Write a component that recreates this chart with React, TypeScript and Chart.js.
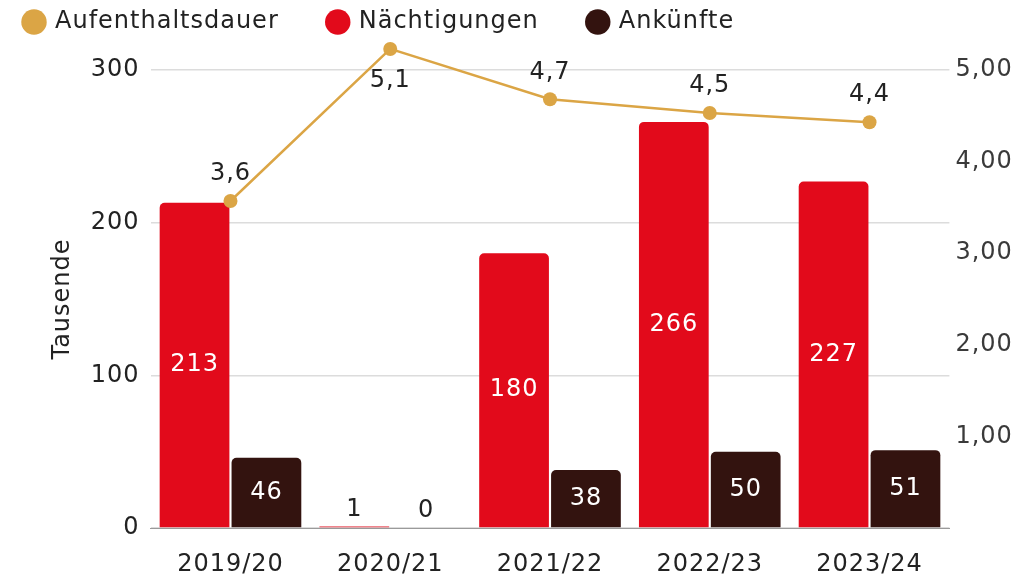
import React, { useEffect, useRef } from "react";
import { Chart, registerables } from "chart.js";

Chart.register(...registerables);

const FONT = "'DejaVu Sans', sans-serif";

const categories = ["2019/20", "2020/21", "2021/22", "2022/23", "2023/24"];
const naechtigungen = [213, 1, 180, 266, 227];
const ankuenfte = [46, 0, 38, 50, 51];
const aufenthaltsdauer = [3.57, 5.23, 4.68, 4.53, 4.43];
const aufenthaltsdauerLabels = ["3,6", "5,1", "4,7", "4,5", "4,4"];
const leftMax = 300;
const leftStep = 100;
const rightMax = 5;
const rightStep = 1;

const RED = "#E20A1B";
const DARK = "#33130F";
const GOLD = "#DBA545";
const TEXT = "#222222";

const spacingPlugin = {
  id: "spacingPlugin",
  beforeLayout(chart: any) {
    chart.ctx.letterSpacing = "1px";
    const lg = chart.legend;
    if (lg && !lg._patched) {
      const orig = lg.fit;
      lg.fit = function () {
        orig.call(this);
        this.height = 110;
      };
      lg._patched = true;
    }
  },
  beforeDraw(chart: any) {
    chart.ctx.letterSpacing = "1px";
  },
  // let the line's points be drawn a little above the plot area (as in the source)
  beforeDatasetDraw(chart: any, args: any) {
    if (args.meta.type === "line") {
      chart._savedTop = chart.chartArea.top;
      chart.chartArea.top = chart.chartArea.top - 60;
    }
  },
  afterDatasetDraw(chart: any, args: any) {
    if (args.meta.type === "line" && chart._savedTop !== undefined) {
      chart.chartArea.top = chart._savedTop;
      chart._savedTop = undefined;
    }
  },
};

const valueLabels = {
  id: "valueLabels",
  afterDatasetsDraw(chart: any) {
    const ctx = chart.ctx;
    ctx.save();
    ctx.letterSpacing = "1px";
    ctx.font = `24px ${FONT}`;
    ctx.textAlign = "center";
    ctx.textBaseline = "middle";
    chart.data.datasets.forEach((ds: any, di: number) => {
      const meta = chart.getDatasetMeta(di);
      if (meta.hidden) return;
      meta.data.forEach((el: any, i: number) => {
        if (meta.type === "bar") {
          const { x, y, base } = el.getProps(["x", "y", "base"], true);
          const h = base - y;
          const text = String(ds.data[i]);
          if (h > 40) {
            ctx.fillStyle = "#ffffff";
            ctx.fillText(text, x, (y + base) / 2);
          } else {
            ctx.fillStyle = TEXT;
            ctx.fillText(text, x, y - 17);
          }
        } else {
          const { x, y } = el.getProps(["x", "y"], true);
          const text = aufenthaltsdauerLabels[i];
          ctx.fillStyle = TEXT;
          const above = y - 27;
          const ly = above < chart.chartArea.top - 25 ? y + 32 : above;
          ctx.fillText(text, x, ly);
        }
      });
    });
    ctx.restore();
  },
};

export default function App() {
  const ref = useRef<HTMLCanvasElement>(null);

  useEffect(() => {
    document.body.style.margin = "0";
    const barRadius = (c: any) => (Math.abs(Number(c.raw)) < 5 ? 0 : 5);
    const chart = new Chart(ref.current as HTMLCanvasElement, {
      type: "bar",
      data: {
        labels: categories,
        datasets: [
          {
            type: "line",
            label: "Aufenthaltsdauer",
            data: aufenthaltsdauer,
            yAxisID: "y1",
            borderColor: GOLD,
            backgroundColor: GOLD,
            borderWidth: 2.5,
            pointRadius: 7,
            pointHoverRadius: 7,
            pointBackgroundColor: GOLD,
            pointBorderWidth: 0,
            tension: 0,
            clip: false,
            order: 0,
          } as any,
          {
            type: "bar",
            label: "Nächtigungen",
            data: naechtigungen,
            yAxisID: "y",
            backgroundColor: RED,
            borderWidth: 0,
            borderRadius: barRadius,
            categoryPercentage: 0.9,
            barPercentage: 0.97,
            order: 1,
          },
          {
            type: "bar",
            label: "Ankünfte",
            data: ankuenfte,
            yAxisID: "y",
            backgroundColor: DARK,
            borderWidth: 0,
            borderRadius: barRadius,
            categoryPercentage: 0.9,
            barPercentage: 0.97,
            order: 1,
          },
        ],
      },
      options: {
        responsive: false,
        animation: false,
        devicePixelRatio: 1,
        layout: { padding: { top: -40, left: -25, right: 0, bottom: 0 } },
        font: { family: FONT, size: 24 },
        plugins: {
          tooltip: { enabled: false },
          legend: {
            position: "top",
            align: "start",
            labels: {
              usePointStyle: true,
              pointStyle: "circle",
              boxWidth: 18,
              boxHeight: 18,
              padding: 50,
              color: TEXT,
              font: { family: FONT, size: 24 },
            },
          },
        },
        scales: {
          x: {
            type: "category",
            grid: { display: false, drawTicks: false },
            border: { display: true, color: "#9a9a9a", width: 1 },
            ticks: { color: TEXT, padding: 22, font: { family: FONT, size: 24 } },
            afterFit(scale: any) {
              scale.height = 49;
            },
          },
          y: {
            position: "left",
            min: 0,
            max: leftMax,
            grid: { color: "#dcdcdc", lineWidth: 1.5, drawTicks: false },
            border: { display: false },
            ticks: {
              stepSize: leftStep,
              color: TEXT,
              padding: 11,
              font: { family: FONT, size: 24 },
            },
            title: {
              display: true,
              text: "Tausende",
              color: TEXT,
              padding: { top: 73, bottom: 0 },
              font: { family: FONT, size: 24 },
            },
            afterFit(scale: any) {
              scale.width = 175.6;
            },
          },
          y1: {
            position: "right",
            min: 0,
            max: rightMax,
            grid: { display: false, drawTicks: false },
            border: { display: false },
            ticks: {
              stepSize: rightStep,
              color: "#3a3a3a",
              padding: 6,
              font: { family: FONT, size: 24 },
              callback: (v: any) => (Number(v) === 0 ? "" : Number(v).toFixed(2).replace(".", ",")),
            },
            afterFit(scale: any) {
              scale.width = 83.6;
            },
          },
        },
      } as any,
      plugins: [spacingPlugin, valueLabels],
    });
    return () => chart.destroy();
  }, []);

  return (
    <div style={{ width: 1033, height: 577 }}>
      <canvas ref={ref} width={1033} height={577} style={{ display: "block" }} />
    </div>
  );
}
